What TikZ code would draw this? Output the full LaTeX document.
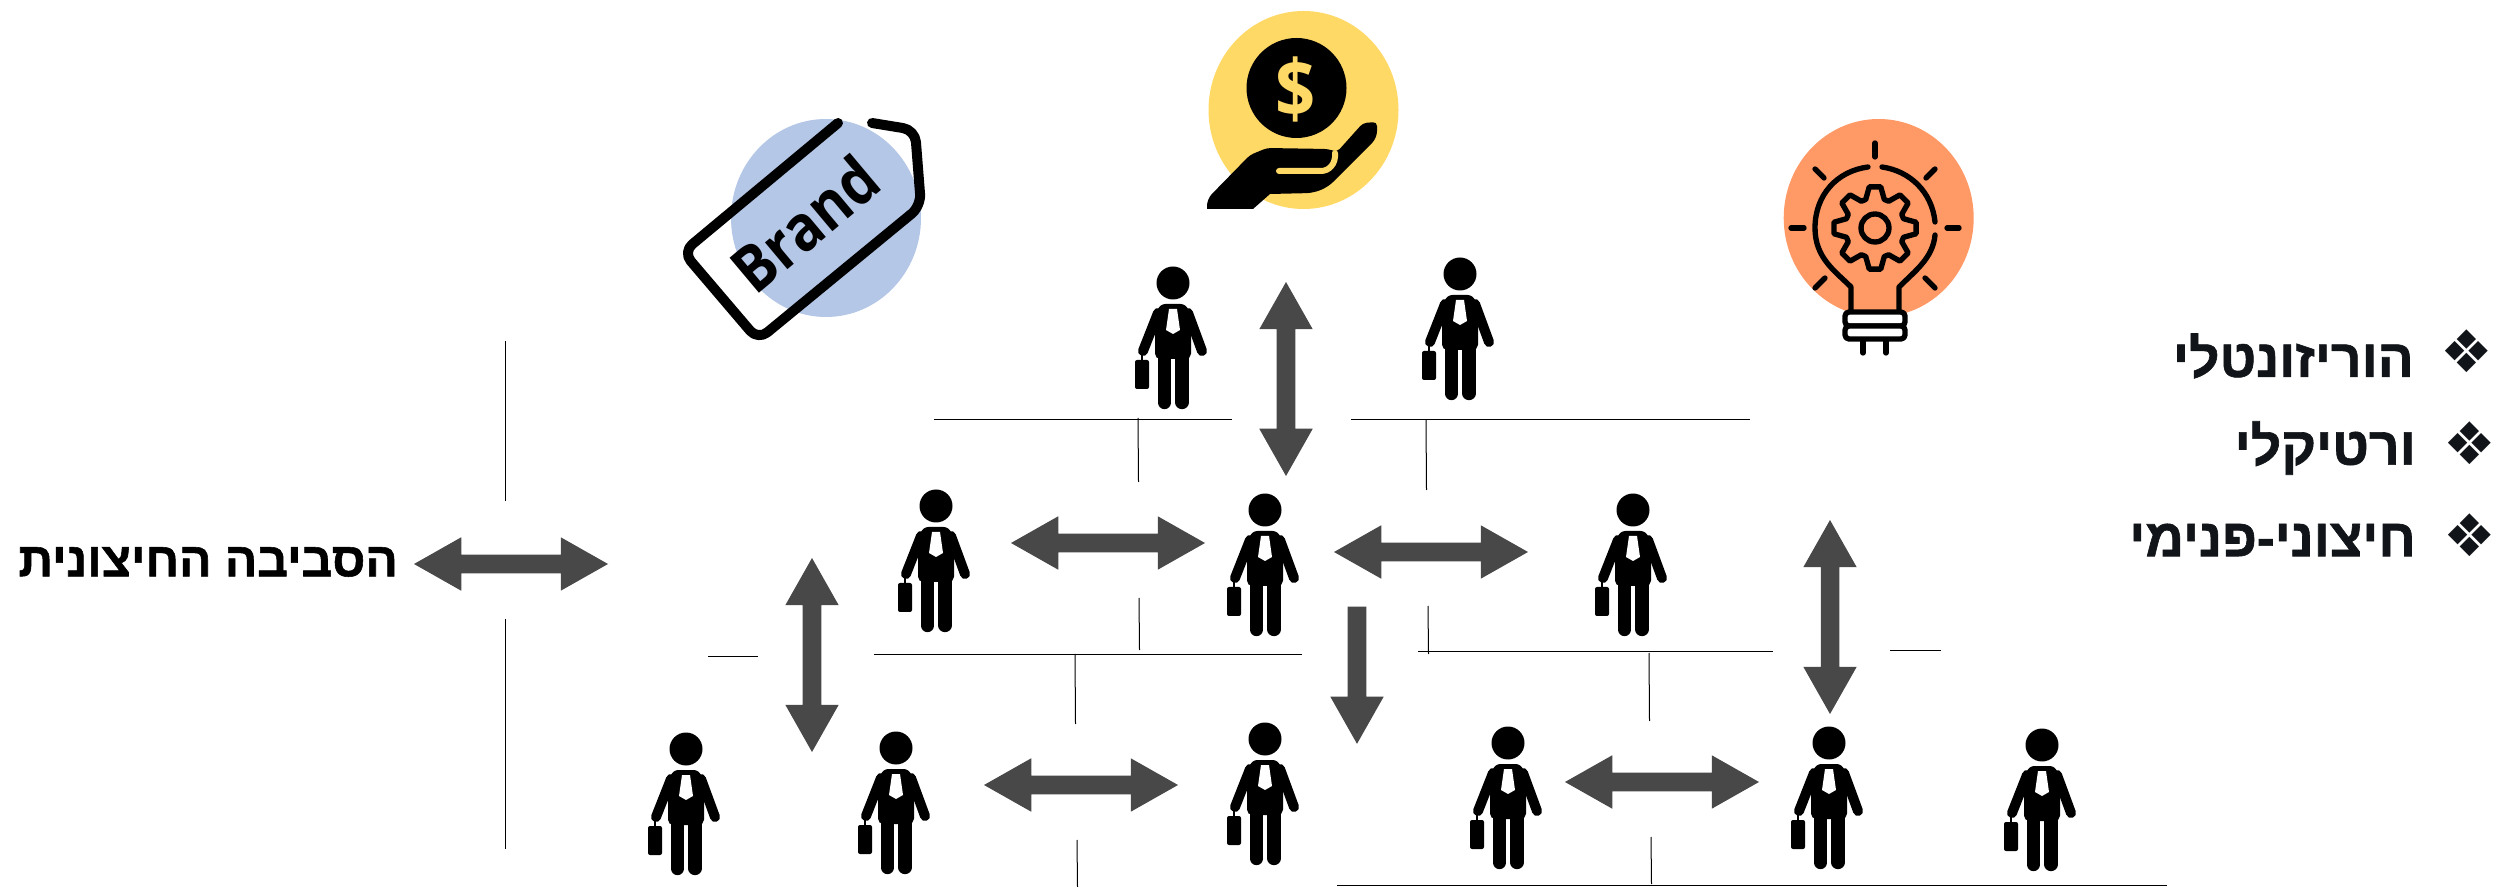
\documentclass[tikz,border=0pt]{standalone}
\usepackage{fontspec}
\usetikzlibrary{shapes.arrows}
\setmainfont{Open Sans}
\newfontfamily\brandfont[FakeStretch=0.88]{Open Sans}
\newfontfamily\hebfont[Script=Hebrew,BoldFeatures={FakeBold=1.2}]{Liberation Sans}
\newfontfamily\symfont{DejaVu Sans}
\TeXXeTstate=1
\definecolor{arrowgray}{RGB}{72,72,72}
\definecolor{brandblue}{RGB}{180,199,231}
\definecolor{coinyellow}{RGB}{255,217,102}
\definecolor{bulborange}{RGB}{255,153,102}
\definecolor{inkdark}{RGB}{17,20,24}
\tikzset{
  blockarrow/.style={shape=double arrow,fill=arrowgray,inner xsep=0pt,inner ysep=6.75pt,minimum height=145.5pt,
    double arrow head extend=13.1pt,double arrow tip angle=59},
  downarrow/.style={shape=single arrow,fill=arrowgray,inner xsep=0pt,inner ysep=6.75pt,minimum height=103pt,
    single arrow head extend=13.1pt,single arrow tip angle=59,rotate=-90},
  thinline/.style={line width=0.75pt,color=black},
  iconline/.style={line width=4pt,line cap=round,line join=round},
  listtext/.style={anchor=east,inner sep=0pt,text=inkdark,font=\hebfont\bfseries\fontsize{40}{40}\selectfont},
  bullettext/.style={inner sep=0pt,text=inkdark,font=\symfont\fontsize{44}{44}\selectfont},
  person/.pic={
    \begin{scope}[yscale=-1]
    \fill (0,0) circle (16.5);
    \fill[rounded corners=4pt] (-13,21) -- (13,21) -- (18,34) -- (18,76) -- (-18,76) -- (-18,34) -- cycle;
    \draw[line width=7.5pt,line cap=round] (-15,30) -- (-30,68);
    \draw[line width=7.5pt,line cap=round] (15,30) -- (29,68);
    \draw[line width=10pt,line cap=round] (-8.5,74) -- (-8.5,119.5);
    \draw[line width=10pt,line cap=round] (9,74) -- (9,119.5);
    \fill[rounded corners=1.5pt] (-38,77) rectangle (-24,106);
    \draw[line width=1.5pt] (-31,70) -- (-31,78);
    \fill[white] (-4,26) -- (4,26) -- (7,47) -- (0,51) -- (-7,47) -- cycle;
    \end{scope}
  }
}

\begin{document}
\begin{tikzpicture}[x=0.75pt,y=0.75pt,yscale=-1,xscale=1]
\useasboundingbox (0,0) rectangle (2496,887);

%Shape: Ellipses
\fill[brandblue] (826,218) ellipse (95 and 99);
\fill[coinyellow] (1303.5,110) ellipse (95 and 99);
\fill[bulborange] (1878.7,218) ellipse (95 and 99);

%Brand tag
\draw[line width=7.5pt,line cap=round,line join=round,rounded corners=9pt] (838,123) -- (683,252) -- (758,340) -- (921,206) -- (915,130) -- (872,123);
\node (brandtext) at (805,224) [rotate=40,inner sep=0pt,font=\brandfont\bfseries\fontsize{48}{48}\selectfont] {Brand};

%Coin and hand
\fill (1296.5,88) circle (50);
\node (dollarsign) at (1296,89) [inner sep=0pt,text=coinyellow,font=\brandfont\bfseries\fontsize{60}{60}\selectfont] {\$};
\fill[rounded corners=5pt] (1250,155) -- (1207,199) [sharp corners] -- (1207,209) -- (1253,209) -- (1270,194) [rounded corners=5pt] -- (1313,193) -- (1328,187) -- (1377,138) [rounded corners=3pt] -- (1377,122) -- (1363,123) -- (1337,152) -- (1328,149) -- (1267,148) -- cycle;
\draw[coinyellow,line width=4.5pt,line cap=round] (1279,171) -- (1321,171) .. controls (1329,171) and (1336,164) .. (1335,153);

%Bulb outline
\draw[iconline] (1868,167) .. controls (1837,171) and (1815,195) .. (1815,228) .. controls (1815,258) and (1835,271) .. (1851,287) -- (1851,310);
\draw[iconline] (1882,167) .. controls (1910,171) and (1932,192) .. (1935,222);
\draw[iconline] (1935,235) .. controls (1933,258) and (1915,271) .. (1899,287) -- (1899,310);
%Rays
\draw[iconline] (1875,143) -- (1875,157);
\draw[iconline] (1947,228) -- (1959,228);
\draw[iconline] (1791,228) -- (1804,228);
\draw[iconline] (1815,169) -- (1824,178);
\draw[iconline] (1935,169) -- (1926,178);
\draw[iconline] (1815,288) -- (1825,278);
\draw[iconline] (1935,288) -- (1925,278);
%Gear
\begin{scope}[shift={(1875,228)}]
\draw[iconline] (-18:30) \foreach \a in {0,45,...,315} {-- ({\a-18}:30) -- ({\a-8}:41.5) -- ({\a+8}:41.5) -- ({\a+18}:30)} -- cycle;
\draw[iconline] (0,0) circle (14);
\end{scope}
%Base
\draw[iconline,fill=white,rounded corners=3pt] (1845,312) rectangle (1905,326);
\draw[iconline,fill=white,rounded corners=3pt] (1845,326) rectangle (1905,339);
\draw[iconline] (1863,341) -- (1863,353);
\draw[iconline] (1886,341) -- (1886,353);

%Straight Lines
\draw[thinline] (505,341) -- (505,501);
\draw[thinline] (505.5,619) -- (505.5,849);
\draw[thinline] (934,420) -- (1232,420);
\draw[thinline] (1351,420) -- (1750,420);
\draw[thinline] (1138,418) -- (1138.5,482);
\draw[thinline] (1426,420) -- (1426.5,490);
\draw[thinline] (708,656) -- (758,656);
\draw[thinline] (874,654) -- (1302,654);
\draw[thinline] (1418,651) -- (1773,651);
\draw[thinline] (1890,650) -- (1941,650);
\draw[thinline] (1139,598) -- (1139.5,650);
\draw[thinline] (1428,606) -- (1428.5,654);
\draw[thinline] (1075,654) -- (1075.5,724);
\draw[thinline] (1649,653) -- (1649.5,721);
\draw[thinline] (1077,840) -- (1077.5,887);
\draw[thinline] (1651,837) -- (1651.5,884);
\draw[thinline] (1337,885) -- (2167,885);

%People
\pic (manA) at (1173,283) {person};
\pic (manB) at (1460,274) {person};
\pic (manC) at (936,506) {person};
\pic (manD) at (1265,510) {person};
\pic (manE) at (1633,510) {person};
\pic (manF) at (686,749) {person};
\pic (manG) at (896,748) {person};
\pic (manH) at (1265,739) {person};
\pic (manI) at (1508,743) {person};
\pic (manJ) at (1829,743) {person};
\pic (manK) at (2042,745) {person};

%Block arrows
\node (arrowOut) at (511,564) [blockarrow] {};
\node (arrowTop) at (1286,379) [blockarrow,rotate=90] {};
\node (arrowMidL) at (1108,543) [blockarrow] {};
\node (arrowMidR) at (1431,552) [blockarrow] {};
\node (arrowRight) at (1830,617) [blockarrow,rotate=90] {};
\node (arrowLeft) at (812,655) [blockarrow,rotate=90] {};
\node (arrowBotL) at (1081,785) [blockarrow] {};
\node (arrowBotR) at (1662,782) [blockarrow] {};
\node (arrowDown) at (1357,667) [downarrow] {};

% Text Node
\node (outerlabel) at (398,562) [anchor=east,inner sep=0pt,font=\hebfont\bfseries\fontsize{36}{36}\selectfont] {\beginR הסביבה החיצונית\endR};
% Text Node
\node (listA) at (2414,356) [listtext] {\beginR הוריזונטלי\endR};
\node (bulletA) at (2467,351) [bullettext] {❖};
% Text Node
\node (listB) at (2416,448) [listtext] {\beginR ורטיקלי\endR};
\node (bulletB) at (2470,443) [bullettext] {❖};
% Text Node
\node (listC) at (2416,540) [listtext] {\beginR חיצוני-פנימי\endR};
\node (bulletC) at (2470,535) [bullettext] {❖};

\end{tikzpicture}
\end{document}
